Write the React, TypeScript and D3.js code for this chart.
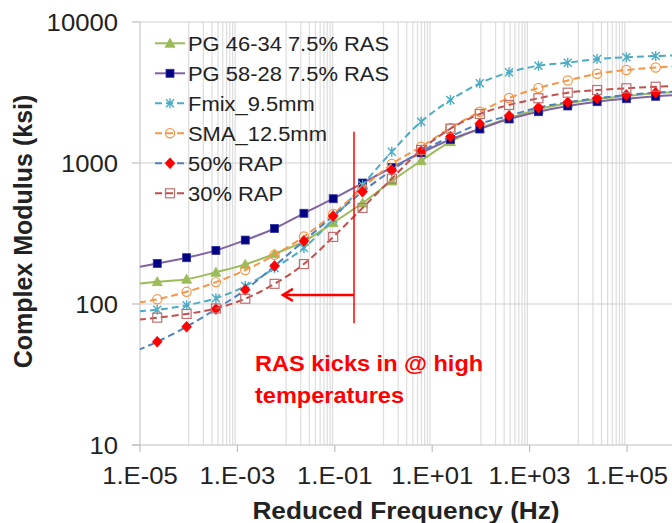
import React from 'react'
import * as d3 from 'd3'

// reduced frequencies (Hz) shared by every series; the first and last sit just outside the plot
const freq = [5.66e-6, 2.26e-5, 9.06e-5, 3.62e-4, 1.45e-3, 5.79e-3, 2.32e-2, 9.27e-2, 0.371, 1.48, 5.93,
  23.7, 94.9, 379, 1518, 6070, 24300, 97100, 388000, 1550000]

// complex modulus (ksi)
const pg4634 = [137, 144, 150, 168, 191, 227, 278, 377, 520, 745, 1038, 1416, 1762, 2075, 2404, 2651, 2844, 2986, 3121, 3215]
const pg5828 = [177, 194, 213, 240, 284, 343, 440, 558, 721, 929, 1181, 1468, 1742, 2052, 2311, 2537, 2721, 2858, 2972, 3061]
const fmix = [88, 91, 98, 110, 134, 180, 250, 401, 698, 1203, 1963, 2798, 3675, 4398, 4899, 5144, 5465, 5617, 5738, 5834]
const sma = [100, 108, 122, 143, 174, 223, 301, 435, 665, 984, 1305, 1771, 2311, 2891, 3403, 3847, 4298, 4566, 4757, 4875]
const rap50 = [44, 54, 69, 92, 126, 186, 280, 421, 626, 888, 1207, 1537, 1897, 2162, 2475, 2695, 2877, 3036, 3152, 3241]
const rap30 = [76, 80, 85, 93, 109, 139, 192, 299, 480, 774, 1237, 1751, 2226, 2578, 2877, 3152, 3294, 3387, 3476, 3545]

const seriesNames = ['PG 46-34 7.5% RAS', 'PG 58-28 7.5% RAS', 'Fmix_9.5mm', 'SMA_12.5mm', '50% RAP', '30% RAP']

const xTicks = [1e-5, 1e-3, 1e-1, 1e1, 1e3, 1e5]
const xTickLabels = ['1.E-05', '1.E-03', '1.E-01', '1.E+01', '1.E+03', '1.E+05']
const yTicks = [10, 100, 1000, 10000]
const yTickLabels = ['10', '100', '1000', '10000']
const gridDecades = [1e-4, 1e-2, 1, 1e2, 1e4]

// annotation: vertical marker, arrow pointing to lower frequencies
const markFreq = 0.248
const markTop = 1667
const markBottom = 73
const arrowTip = 0.0086
const arrowLevel = 116
const noteLines = ['RAS kicks in @ high', 'temperatures']

const W = 672
const H = 523
const SX = 1.07
const FONT = '"Liberation Sans", Arial, sans-serif'

const x = d3.scaleLog().domain([1e-5, 1e6]).range([140, 675.7])
const y = d3.scaleLog().domain([10, 10000]).range([445, 22])

const styles = [
  { values: pg4634, color: '#9BBB59', dash: null, marker: 'triangle', mcolor: '#9BBB59' },
  { values: pg5828, color: '#8064A2', dash: null, marker: 'square', mcolor: '#000080' },
  { values: fmix, color: '#4BACC6', dash: '7,4', marker: 'star', mcolor: '#4BACC6' },
  { values: sma, color: '#F79646', dash: '7,4', marker: 'circle', mcolor: '#F79646' },
  { values: rap50, color: '#4F81BD', dash: '7,4', marker: 'diamond', mcolor: '#FF0000' },
  { values: rap30, color: '#C0504D', dash: '7,4', marker: 'osquare', mcolor: '#C07070' },
]

function Marker({ type, cx, cy, color }: any) {
  const t = `translate(${cx},${cy})`
  if (type === 'triangle')
    return <path transform={t} d="M0,-5L5,4L-5,4Z" fill={color} stroke={color} strokeWidth={0.8} />
  if (type === 'square')
    return <rect x={cx - 4} y={cy - 4} width={8} height={8} fill={color} stroke="#3030a0" strokeWidth={0.8} />
  if (type === 'star')
    return <path transform={t} d="M-4,-4L4,4M-4,4L4,-4M0,-5L0,5" fill="none" stroke={color} strokeWidth={1.4} />
  if (type === 'circle')
    return <circle cx={cx} cy={cy} r={4.6} fill="none" stroke={color} strokeWidth={1.2} />
  if (type === 'diamond')
    return <path transform={t} d="M0,-5.5L5,0L0,5.5L-5,0Z" fill={color} stroke={color} strokeWidth={0.6} />
  return <rect x={cx - 4.5} y={cy - 4.5} width={9} height={9} fill="none" stroke={color} strokeWidth={1.2} />
}

function T({ x: tx, y: ty, size, anchor = 'start', weight = 'normal', fill = '#222', children }: any) {
  return (
    <text transform={`translate(${tx},${ty}) scale(${SX},1)`} fontSize={size} textAnchor={anchor}
      fontWeight={weight} fill={fill} fontFamily={FONT}>{children}</text>
  )
}

export default function App() {
  const line = d3.line<number>()
    .x((d, i) => x(freq[i]))
    .y(d => y(d))
    .curve(d3.curveCatmullRom.alpha(0.5))

  const minorGrid: number[] = []
  gridDecades.forEach(d => { for (let k = 1; k <= 9; k++) minorGrid.push(d * k) })

  const [x0, x1] = x.range()
  const [yb, yt] = y.range()
  const ax = x(markFreq)
  const tipX = x(arrowTip)
  const ay = y(arrowLevel)

  return (
    <svg width={W} height={H} style={{ position: 'absolute', left: 0, top: 0, background: '#fff' }}>
      <defs>
        <clipPath id="plot">
          <rect x={x0} y={yt - 6} width={W - x0} height={yb - yt + 6} />
        </clipPath>
      </defs>

      {minorGrid.map(v => (
        <line key={'g' + v} x1={x(v)} x2={x(v)} y1={yt} y2={yb} stroke="#DDDDDD" strokeWidth={1.2} />
      ))}
      {yTicks.slice(1).map(v => (
        <line key={'h' + v} x1={x0} x2={W} y1={y(v)} y2={y(v)} stroke="#D0D0D0" strokeWidth={1.2} />
      ))}

      <line x1={x0} x2={x0} y1={yt} y2={yb} stroke="#C8C8C8" strokeWidth={1.2} />
      <line x1={x0 - 8} x2={W} y1={yb} y2={yb} stroke="#BFBFBF" strokeWidth={1.2} />
      {xTicks.map(v => (
        <line key={'xt' + v} x1={x(v)} x2={x(v)} y1={yb} y2={yb + 7} stroke="#BFBFBF" strokeWidth={1.2} />
      ))}
      {yTicks.map(v => (
        <line key={'yt' + v} x1={x0 - 8} x2={x0} y1={y(v)} y2={y(v)} stroke="#BFBFBF" strokeWidth={1.2} />
      ))}

      {xTicks.map((v, i) => (
        <T key={'xl' + v} x={x(v)} y={484} size={24} anchor="middle">{xTickLabels[i]}</T>
      ))}
      {yTicks.map((v, i) => (
        <T key={'yl' + v} x={118} y={y(v) + 8.5} size={24} anchor="end">{yTickLabels[i]}</T>
      ))}

      <T x={406} y={519} size={24.5} anchor="middle" weight="bold">Reduced Frequency (Hz)</T>
      <text transform="translate(31.5,231.5) rotate(-90)" fontSize={25} fontWeight="bold"
        textAnchor="middle" fill="#222" fontFamily={FONT}>Complex Modulus (ksi)</text>

      <g clipPath="url(#plot)">
        {styles.map((s, si) => (
          <g key={'s' + si}>
            <path d={line(s.values) || ''} fill="none" stroke={s.color} strokeWidth={2}
              strokeDasharray={s.dash || undefined} />
            {s.values.map((v, i) => (
              <Marker key={i} type={s.marker} cx={x(freq[i])} cy={y(v)} color={s.mcolor} />
            ))}
          </g>
        ))}
      </g>

      {styles.map((s, si) => {
        const ry = 43.3 + si * 30
        return (
          <g key={'lg' + si}>
            <line x1={155} x2={185} y1={ry} y2={ry} stroke={s.color} strokeWidth={2}
              strokeDasharray={s.dash || undefined} />
            <Marker type={s.marker} cx={170} cy={ry} color={s.mcolor} />
            <T x={188} y={ry + 7.4} size={20.5}>{seriesNames[si]}</T>
          </g>
        )
      })}

      <line x1={ax} x2={ax} y1={y(markTop)} y2={y(markBottom)} stroke="#FF0000" strokeWidth={1.5} />
      <line x1={ax} x2={tipX + 1} y1={ay} y2={ay} stroke="#FF0000" strokeWidth={2.5} />
      <path d={`M${tipX + 10},${ay - 6}L${tipX},${ay}L${tipX + 10},${ay + 6}`} fill="none"
        stroke="#FF0000" strokeWidth={2.5} />

      {noteLines.map((t, i) => (
        <T key={'n' + i} x={255} y={370.7 + i * 32} size={22} weight="bold" fill="#FF0000">{t}</T>
      ))}
    </svg>
  )
}
